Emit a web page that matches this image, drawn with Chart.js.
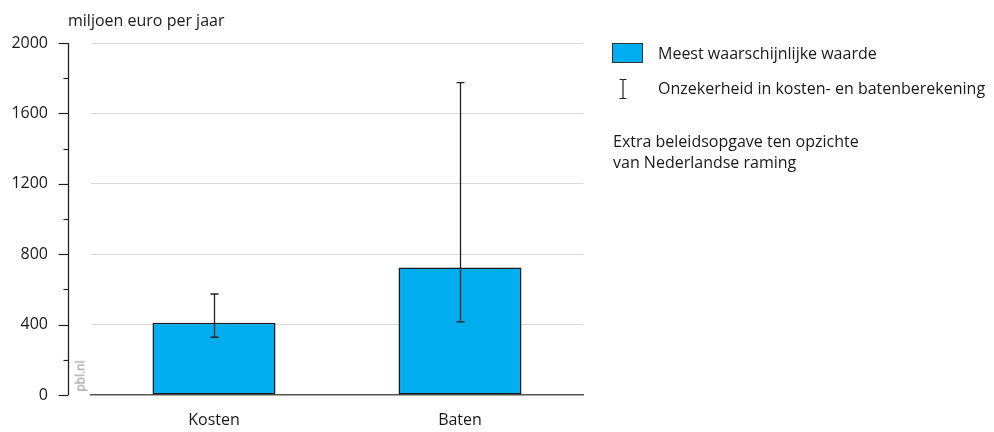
<!DOCTYPE html>
<html>
<head>
<meta charset="utf-8">
<script src="https://cdn.jsdelivr.net/npm/chart.js@4/dist/chart.umd.min.js"></script>
<style>
  html, body { margin: 0; padding: 0; background: #fff; }
  #wrap { position: relative; width: 994px; height: 432px; font-family: "Open Sans", sans-serif; color: #1a1a1a; }
  #c { position: absolute; left: 0; top: 0; }
  .txt { position: absolute; font-size: 16px; line-height: 20px; white-space: nowrap; }
  #title { left: 68px; top: 10px; }
  #swatch { position: absolute; left: 612px; top: 43px; width: 31px; height: 20px; box-sizing: border-box; background: #00ADEF; border: 1px solid #333; }
  #ibeam { position: absolute; left: 618px; top: 79px; }
  #pbl { position: absolute; left: 80px; top: 376px; font-size: 12px; color: #8a8a8a; transform: translate(-50%, -50%) rotate(-90deg); white-space: nowrap; }
</style>
</head>
<body>
<div id="wrap">
  <canvas id="c" width="994" height="432"></canvas>
  <div class="txt" id="title"></div>
  <div id="swatch"></div>
  <div class="txt" id="leg1" style="left:658px; top:43px;"></div>
  <svg id="ibeam" width="10" height="20" viewBox="0 0 10 20"><path d="M1.5 0.5H8.5M5 0.5V19.5M1.5 19.5H8.5" stroke="#222" stroke-width="1.2" fill="none"/></svg>
  <div class="txt" id="leg2" style="left:658px; top:78px;"></div>
  <div class="txt" id="note" style="left:613px; top:131px; line-height:21px;"></div>
  <div id="pbl">pbl.nl</div>
</div>
<script>
// ---- data ----
const categories = ['Kosten', 'Baten'];
const values = [410, 725];
const errLow = [328, 416];
const errHigh = [574, 1775];
const yMin = 0;
const yMax = 2000;
const yStep = 400;
const yMinorStep = 200;
const titleText = 'miljoen euro per jaar';
const legendLabels = ['Meest waarschijnlijke waarde', 'Onzekerheid in kosten- en batenberekening'];
const noteLines = ['Extra beleidsopgave ten opzichte', 'van Nederlandse raming'];

document.getElementById('title').textContent = titleText;
document.getElementById('leg1').textContent = legendLabels[0];
document.getElementById('leg2').textContent = legendLabels[1];
document.getElementById('note').innerHTML = noteLines.join('<br>');

const FONT = '"Open Sans", sans-serif';

const axisPlugin = {
  id: 'axisPlugin',
  afterDraw(chart) {
    const ctx = chart.ctx;
    const ys = chart.scales.y;
    const x0 = Math.round(chart.chartArea.left - 23) + 0.5;
    ctx.save();
    ctx.strokeStyle = '#222';
    ctx.lineWidth = 1.3;
    ctx.beginPath();
    ctx.moveTo(x0, ys.getPixelForValue(yMin));
    ctx.lineTo(x0, ys.getPixelForValue(yMax));
    ctx.stroke();
    ctx.lineWidth = 1.2;
    for (let v = yMin; v <= yMax; v += yMinorStep) {
      const y = Math.round(ys.getPixelForValue(v)) + 0.5;
      const len = (v % yStep === 0) ? 10 : 5;
      ctx.beginPath();
      ctx.moveTo(x0 - len, y);
      ctx.lineTo(x0, y);
      ctx.stroke();
    }
    ctx.restore();
  }
};

const errorBarPlugin = {
  id: 'errorBars',
  afterDatasetsDraw(chart) {
    const ctx = chart.ctx;
    const xs = chart.scales.x, ys = chart.scales.y;
    ctx.save();
    ctx.strokeStyle = '#222';
    ctx.lineWidth = 1.3;
    for (let i = 0; i < categories.length; i++) {
      const x = Math.round(xs.getPixelForValue(i)) + 0.5;
      const yl = ys.getPixelForValue(errLow[i]);
      const yh = ys.getPixelForValue(errHigh[i]);
      ctx.beginPath();
      ctx.moveTo(x, yl); ctx.lineTo(x, yh);
      ctx.moveTo(x - 4, yl); ctx.lineTo(x + 4, yl);
      ctx.moveTo(x - 4, yh); ctx.lineTo(x + 4, yh);
      ctx.stroke();
    }
    ctx.restore();
  }
};

new Chart(document.getElementById('c'), {
  type: 'bar',
  data: {
    labels: categories,
    datasets: [{
      data: values,
      backgroundColor: '#00ADEF',
      borderColor: '#1a1a1a',
      borderWidth: 1.5,
      borderSkipped: false,
      barPercentage: 1,
      categoryPercentage: 0.5
    }]
  },
  options: {
    responsive: false,
    animation: false,
    devicePixelRatio: 1,
    layout: { autoPadding: false, padding: { left: 0, right: 411, top: 43, bottom: 0 } },
    plugins: { legend: { display: false }, tooltip: { enabled: false } },
    scales: {
      x: {
        grid: { display: false, drawTicks: false },
        border: { display: true, color: '#555', width: 1.5 },
        ticks: { color: '#1a1a1a', font: { family: FONT, size: 16 }, padding: 16 },
        afterFit(scale) { scale.height = 37; }
      },
      y: {
        min: yMin, max: yMax,
        grid: {
          drawTicks: true,
          tickLength: 23,
          tickColor: 'rgba(0,0,0,0)',
          color: (c) => (c.tick && c.tick.value === 0) ? 'rgba(0,0,0,0)' : '#d9d9d9',
          lineWidth: 1
        },
        border: { display: false },
        ticks: { stepSize: yStep, color: '#1a1a1a', font: { family: FONT, size: 16 }, padding: 20, callback: (v) => String(v) },
        afterFit(scale) { scale.width = 91; }
      }
    }
  },
  plugins: [axisPlugin, errorBarPlugin]
});
</script>
</body>
</html>
